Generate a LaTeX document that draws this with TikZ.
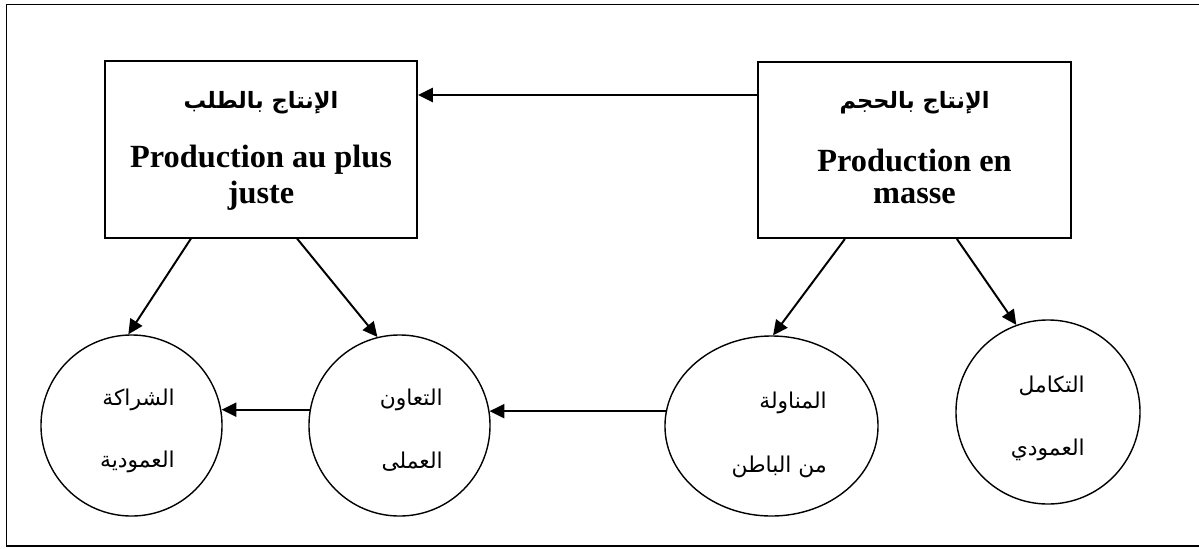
\documentclass[tikz,border=0pt]{standalone}
\usepackage{fontspec}
\setmainfont{Liberation Serif}
\newfontfamily\arabicfont[Script=Arabic]{DejaVu Sans}
\TeXXeTstate=1
\usetikzlibrary{arrows.meta,shapes.geometric}

\begin{document}
\begin{tikzpicture}[x=0.025cm, y=-0.025cm,
  frame/.style={line width=1.4pt},
  boxnode/.style={draw, line width=1.4pt, minimum width=7.8cm, minimum height=4.4cm, inner sep=0pt},
  roundnode/.style={draw, circle, line width=1pt, minimum size=4.525cm, inner sep=0pt},
  ovalnode/.style={draw, ellipse, line width=1pt, minimum width=5.325cm, minimum height=4.5cm, inner sep=0pt},
  latintxt/.style={inner sep=0pt, font=\fontsize{23}{26}\selectfont\bfseries},
  arbold/.style={inner sep=0pt, font=\arabicfont\fontsize{16}{19}\selectfont\bfseries},
  artxt/.style={inner sep=0pt, anchor=east, font=\arabicfont\fontsize{15.5}{18}\selectfont},
  link/.style={line width=1.4pt, -{Triangle[length=10.5pt, width=10pt]}}
]
\useasboundingbox (0,0) rectangle (1199,548);

% outer frame (open on the right)
\draw[frame] (1199,4.5) -- (6.5,4.5) -- (6.5,546) -- (1199,546);

% production boxes
\node[boxnode] (lbox) at (261,149.5) {};
\node[boxnode] (rbox) at (914.5,150) {};

\node[arbold] (lar) at (261,103) {\beginR الإنتاج بالطلب\endR};
\node[latintxt] (l1) at (261,160) {Production au plus};
\node[latintxt] (l2) at (261,196) {juste};

\node[arbold] (rar) at (914.5,103) {\beginR الإنتاج بالحجم\endR};
\node[latintxt] (r1) at (914.5,160) {Production en};
\node[latintxt] (r2) at (914.5,196) {masse};

% forms of relations
\node[roundnode] (c1) at (131.5,425.5) {};
\node[roundnode] (c2) at (399.5,425.5) {};
\node[ovalnode] (c3) at (771.5,426) {};
\node[roundnode, minimum size=4.6cm] (c4) at (1048,412) {};

\node[artxt] (t1a) at (175,400) {\beginR الشراكة\endR};
\node[artxt] (t1b) at (175,462) {\beginR العمودية\endR};
\node[artxt] (t2a) at (443,400) {\beginR التعاون\endR};
\node[artxt] (t2b) at (443,462) {\beginR العملى\endR};
\node[artxt] (t3a) at (827,403) {\beginR المناولة\endR};
\node[artxt] (t3b) at (827,467) {\beginR من الباطن\endR};
\node[artxt] (t4a) at (1085,386) {\beginR التكامل\endR};
\node[artxt] (t4b) at (1085,450) {\beginR العمودي\endR};

% connectors
\draw[link] (rbox.west |- 0,95) -- (lbox.east |- 0,95);
\draw[link] ([xshift=-1.75cm]lbox.south) -- (c1.92);
\draw[link] ([xshift=0.9cm]lbox.south) -- (c2.104);
\draw[link] ([xshift=-1.74cm]rbox.south) -- (c3.89);
\draw[link] ([xshift=1.06cm]rbox.south) -- (c4.110);
\draw[link] (c3.172) -- (c3.172 -| c2.9.6);
\draw[link] (c2.170.4) -- (c2.170.4 -| c1.9.6);
\end{tikzpicture}
\end{document}
